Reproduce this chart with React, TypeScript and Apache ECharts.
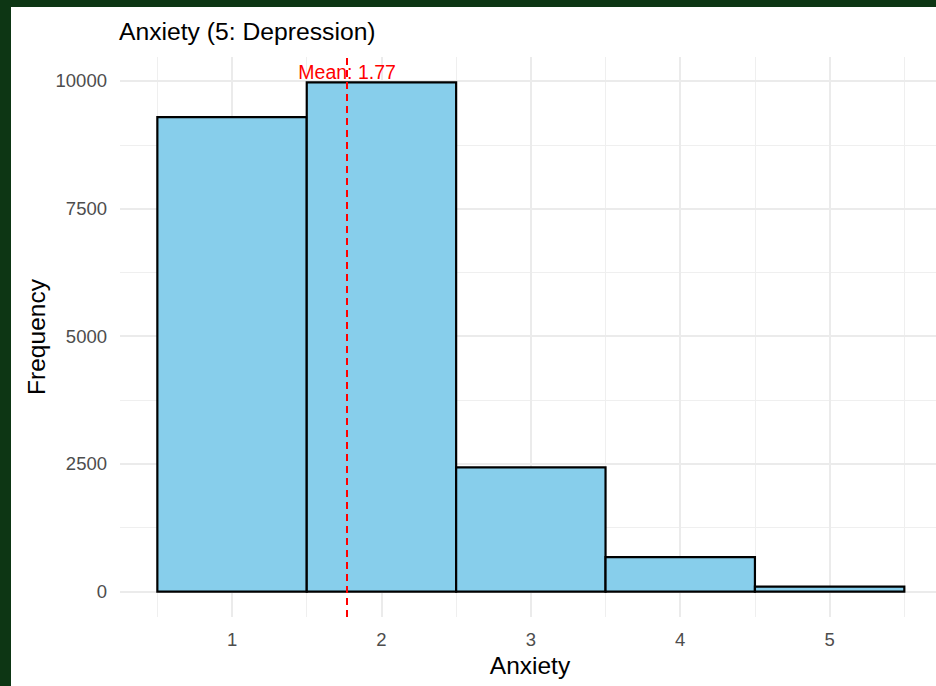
import React, { useEffect, useRef } from "react";
import * as echarts from "echarts";

const categories = [1, 2, 3, 4, 5];
const frequencies = [9290, 9970, 2430, 675, 95];
const meanValue = 1.77;
const meanLabelY = 10170;
const yTickValues = [0, 2500, 5000, 7500, 10000];
const yMinorValues = [1250, 3750, 6250, 8750];
const xMajorValues = [1, 2, 3, 4, 5];
const xMinorValues = [0.5, 1.5, 2.5, 3.5, 4.5, 5.5];
const titleText = "Anxiety (5: Depression)";
const xTitle = "Anxiety";
const yTitle = "Frequency";

const FONT = "'Liberation Sans', Arial, Helvetica, sans-serif";

export default function App() {
  const ref = useRef<HTMLDivElement>(null);
  useEffect(() => {
    if (!ref.current) return;
    const chart = echarts.init(ref.current, null, { renderer: "svg" });
    const maxV = Math.max(...frequencies);
    const yMin = -0.05 * maxV;
    const yMax = maxV * 1.05;
    const gridLine = (key: "xAxis" | "yAxis", v: number) => ({ [key]: v });
    chart.setOption({
      animation: false,
      backgroundColor: "transparent",
      grid: { left: 120, top: 57, right: 0, height: 560 },
      xAxis: {
        type: "value",
        min: 0.25,
        max: 5.712,
        axisLine: { show: false },
        axisTick: { show: false },
        splitLine: { show: false },
        axisLabel: {
          customValues: xMajorValues,
          formatter: (v: number) => String(v),
          color: "#4D4D4D",
          fontSize: 18.5,
          fontFamily: FONT,
          margin: 13,
        },
      },
      yAxis: {
        type: "value",
        min: yMin,
        max: yMax,
        axisLine: { show: false },
        axisTick: { show: false },
        splitLine: { show: false },
        axisLabel: {
          customValues: yTickValues,
          formatter: (v: number) => String(v),
          color: "#4D4D4D",
          fontSize: 18.5,
          fontFamily: FONT,
          margin: 13,
        },
      },
      graphic: [
        {
          type: "text",
          x: 119,
          y: 31,
          style: {
            text: titleText,
            fill: "#000",
            fontSize: 24.7,
            fontFamily: FONT,
            textVerticalAlign: "middle",
            textAlign: "left",
          },
        },
        {
          type: "text",
          x: 530,
          y: 665,
          style: {
            text: xTitle,
            fill: "#000",
            fontSize: 24.5,
            fontFamily: FONT,
            textVerticalAlign: "middle",
            textAlign: "center",
          },
        },
        {
          type: "text",
          x: 36,
          y: 337,
          rotation: Math.PI / 2,
          style: {
            text: yTitle,
            fill: "#000",
            fontSize: 24.5,
            fontFamily: FONT,
            textVerticalAlign: "middle",
            textAlign: "center",
          },
        },
      ],
      series: [
        {
          type: "scatter",
          data: [],
          z: 1,
          silent: true,
          markLine: {
            silent: true,
            z: 1,
            symbol: ["none", "none"],
            label: { show: false },
            lineStyle: { color: "#EFEFEF", width: 1, type: "solid" },
            data: [
              ...xMinorValues.map((v) => gridLine("xAxis", v)),
              ...yMinorValues.map((v) => gridLine("yAxis", v)),
            ],
          },
        },
        {
          type: "scatter",
          data: [],
          z: 1,
          silent: true,
          markLine: {
            silent: true,
            z: 1,
            symbol: ["none", "none"],
            label: { show: false },
            lineStyle: { color: "#EBEBEB", width: 2, type: "solid" },
            data: [
              ...xMajorValues.map((v) => gridLine("xAxis", v)),
              ...yTickValues.map((v) => gridLine("yAxis", v)),
            ],
          },
        },
        {
          type: "custom",
          z: 3,
          silent: true,
          data: categories.map((c, i) => [c, frequencies[i]]),
          renderItem: (params: any, api: any) => {
            const x = api.value(0);
            const v = api.value(1);
            const p1 = api.coord([x - 0.5, v]);
            const p2 = api.coord([x + 0.5, 0]);
            return {
              type: "rect",
              shape: { x: p1[0], y: p1[1], width: p2[0] - p1[0], height: p2[1] - p1[1] },
              style: { fill: "#87CEEB", stroke: "#000000", lineWidth: 2.2 },
            };
          },
        },
        {
          type: "scatter",
          data: [[meanValue, meanLabelY]],
          z: 6,
          symbolSize: 0,
          silent: true,
          itemStyle: { opacity: 1 },
          label: {
            show: true,
            position: "inside",
            formatter: `Mean: ${meanValue}`,
            color: "#FF0000",
            opacity: 1,
            fontSize: 19.5,
            fontFamily: FONT,
          },
          markLine: {
            silent: true,
            z: 5,
            symbol: ["none", "none"],
            label: { show: false },
            lineStyle: { color: "#FF0000", width: 2, type: [7, 5], opacity: 1 },
            data: [{ xAxis: meanValue }],
          },
        },
      ],
    });
    return () => chart.dispose();
  }, []);
  return (
    <div style={{ position: "fixed", left: 0, top: 0, width: 936, height: 686, background: "#0d3614" }}>
      <div style={{ position: "absolute", left: 11, top: 7, width: 925, height: 679, background: "#ffffff" }} />
      <div ref={ref} style={{ position: "absolute", left: 0, top: 0, width: 936, height: 686 }} />
    </div>
  );
}
